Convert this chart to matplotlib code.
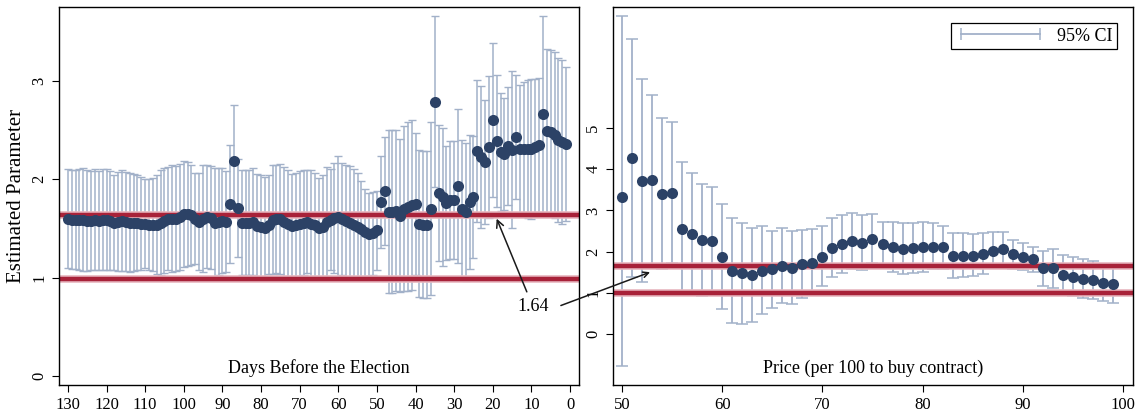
import matplotlib
matplotlib.use("Agg")
import matplotlib.pyplot as plt
from matplotlib.lines import Line2D
import numpy as np

plt.rcParams['font.family'] = ['Liberation Serif', 'DejaVu Serif']

# left panel: days before the election (130 ... 1)
days = list(range(130, 0, -1))
day_est = [
    1.60, 1.59, 1.59, 1.59, 1.59, 1.58, 1.58, 1.59, 1.58, 1.59,
    1.59, 1.58, 1.56, 1.57, 1.58, 1.57, 1.56, 1.56, 1.56, 1.55,
    1.55, 1.54, 1.54, 1.54, 1.56, 1.58, 1.60, 1.60, 1.60, 1.62,
    1.65, 1.65, 1.64, 1.60, 1.57, 1.60, 1.62, 1.61, 1.56, 1.57,
    1.58, 1.57, 1.75, 2.19, 1.71, 1.56, 1.56, 1.56, 1.57, 1.53,
    1.52, 1.51, 1.54, 1.59, 1.60, 1.60, 1.57, 1.55, 1.53, 1.54,
    1.55, 1.56, 1.57, 1.55, 1.54, 1.50, 1.52, 1.57, 1.59, 1.61,
    1.62, 1.60, 1.58, 1.56, 1.54, 1.52, 1.49, 1.46, 1.44, 1.45,
    1.48, 1.77, 1.88, 1.67, 1.67, 1.68, 1.63, 1.70, 1.72, 1.74,
    1.75, 1.55, 1.54, 1.54, 1.70, 2.79, 1.86, 1.82, 1.76, 1.79,
    1.79, 1.93, 1.70, 1.67, 1.77, 1.82, 2.29, 2.23, 2.18, 2.33,
    2.60, 2.39, 2.28, 2.26, 2.34, 2.30, 2.43, 2.31, 2.31, 2.31,
    2.31, 2.33, 2.35, 2.66, 2.49, 2.48, 2.45, 2.40, 2.38, 2.36,
]
# half width of the 95% CI
day_ci = [
    0.50, 0.50, 0.50, 0.51, 0.52, 0.51, 0.50, 0.51, 0.50, 0.51,
    0.51, 0.50, 0.48, 0.50, 0.51, 0.50, 0.50, 0.49, 0.48, 0.47,
    0.45, 0.46, 0.47, 0.50, 0.53, 0.53, 0.52, 0.54, 0.53, 0.54,
    0.54, 0.53, 0.51, 0.46, 0.49, 0.54, 0.52, 0.52, 0.55, 0.54,
    0.53, 0.51, 0.60, 0.56, 0.50, 0.53, 0.53, 0.53, 0.54, 0.52,
    0.52, 0.51, 0.50, 0.55, 0.55, 0.56, 0.55, 0.54, 0.52, 0.52,
    0.53, 0.53, 0.52, 0.54, 0.52, 0.51, 0.52, 0.55, 0.51, 0.56,
    0.62, 0.57, 0.57, 0.57, 0.56, 0.54, 0.49, 0.44, 0.42, 0.42,
    0.40, 0.47, 0.55, 0.83, 0.83, 0.82, 0.78, 0.84, 0.86, 0.86,
    0.72, 0.75, 0.75, 0.75, 0.88, 0.87, 0.69, 0.70, 0.58, 0.60,
    0.60, 0.78, 0.70, 0.70, 0.68, 0.62, 0.72, 0.72, 0.63, 0.72,
    0.78, 0.67, 0.60, 0.57, 0.60, 0.80, 0.63, 0.65, 0.68, 0.70,
    0.71, 0.69, 0.68, 1.00, 0.83, 0.83, 0.84, 0.83, 0.83, 0.78,
]

# right panel: price per 100 to buy contract
prices = list(range(50, 100))
price_est = [
    3.33, 4.27, 3.71, 3.74, 3.41, 3.43, 2.56, 2.42, 2.27, 2.25,
    1.88, 1.54, 1.47, 1.43, 1.54, 1.57, 1.66, 1.61, 1.70, 1.73,
    1.88, 2.09, 2.18, 2.25, 2.22, 2.31, 2.18, 2.10, 2.06, 2.08,
    2.10, 2.12, 2.10, 1.89, 1.89, 1.89, 1.94, 2.02, 2.06, 1.93,
    1.86, 1.81, 1.59, 1.59, 1.42, 1.38, 1.33, 1.31, 1.23, 1.21,
]
price_lo = [
    -0.79, 1.39, 1.25, 1.67, 1.58, 1.72, 0.95, 0.95, 0.92, 0.95,
    0.61, 0.27, 0.24, 0.30, 0.48, 0.64, 0.76, 0.73, 0.88, 0.95,
    1.17, 1.38, 1.47, 1.58, 1.55, 1.73, 1.63, 1.50, 1.45, 1.47,
    1.51, 1.57, 1.58, 1.35, 1.38, 1.40, 1.46, 1.59, 1.65, 1.57,
    1.55, 1.51, 1.17, 1.11, 0.95, 0.91, 0.88, 0.86, 0.80, 0.76,
]
price_hi = [
    7.72, 7.17, 6.20, 5.80, 5.24, 5.14, 4.17, 3.90, 3.63, 3.58,
    3.16, 2.81, 2.69, 2.58, 2.63, 2.51, 2.57, 2.51, 2.52, 2.54,
    2.61, 2.81, 2.89, 2.93, 2.89, 2.91, 2.73, 2.71, 2.69, 2.69,
    2.73, 2.69, 2.63, 2.46, 2.45, 2.43, 2.45, 2.47, 2.47, 2.28,
    2.20, 2.12, 2.02, 2.06, 1.92, 1.87, 1.82, 1.77, 1.67, 1.63,
]

ref_lines = [1.64, 0.99]

dot_color = '#2c4266'
ci_color = '#a2b1c9'
red = '#a82239'

fig = plt.figure(figsize=(11.39, 4.13), dpi=100)
ax1 = fig.add_axes([0.0518, 0.0678, 0.4565, 0.9152])
ax2 = fig.add_axes([0.5382, 0.0678, 0.4565, 0.9152])

# left
ax1.errorbar(days, day_est, yerr=day_ci, fmt='none', ecolor=ci_color,
             elinewidth=1.1, capsize=3, capthick=1.0, zorder=1)
for r in ref_lines:
    ax1.axhline(r, color='#e7b7bf', lw=5.5, zorder=2)
    ax1.axhline(r, color=red, lw=3.2, zorder=2)
ax1.plot(days, day_est, 'o', color=dot_color, ms=8, mec='none', zorder=3)
ax1.set_xlim(132.3, -2.3)
ax1.set_ylim(-0.09, 3.75)
ax1.set_xticks(range(130, -1, -10))
ax1.set_yticks([0, 1, 2, 3])
ax1.set_ylabel('Estimated Parameter', fontsize=15, labelpad=4)
ax1.text(0.5, 0.045, 'Days Before the Election', transform=ax1.transAxes,
         ha='center', va='center', fontsize=13)

# right
yerr = [np.subtract(price_est, price_lo), np.subtract(price_hi, price_est)]
ax2.errorbar(prices, price_est, yerr=yerr, fmt='none', ecolor=ci_color,
             elinewidth=1.3, capsize=4, capthick=1.1, zorder=1)
for r in ref_lines:
    ax2.axhline(r, color='#e7b7bf', lw=5.5, zorder=2)
    ax2.axhline(r, color=red, lw=3.2, zorder=2)
ax2.plot(prices, price_est, 'o', color=dot_color, ms=8, mec='none', zorder=3)
ax2.set_xlim(49.1, 101)
ax2.set_ylim(-1.24, 7.94)
ax2.set_xticks(range(50, 101, 10))
ax2.set_yticks([0, 1, 2, 3, 4, 5])
ax2.text(0.5, 0.045, 'Price (per 100 to buy contract)', transform=ax2.transAxes,
         ha='center', va='center', fontsize=13)

ci_handle = Line2D([], [], color=ci_color, lw=1.3, marker='|', ms=9, mew=1.1)
leg = ax2.legend([ci_handle], ['95% CI'], loc='upper right', numpoints=2,
                 handlelength=5.0, fontsize=13, fancybox=False, framealpha=1,
                 edgecolor='black', borderaxespad=0.9, borderpad=0.25,
                 handletextpad=0.6)
leg.get_frame().set_linewidth(0.9)

for ax in (ax1, ax2):
    for s in ax.spines.values():
        s.set_linewidth(1.0)
    ax.tick_params(axis='both', labelsize=12, length=5, width=0.8)
    ax.tick_params(axis='y', labelrotation=90)
    for lab in ax.get_yticklabels():
        lab.set_va('center')

# 1.64 annotation pointing to both panels
arrow = dict(arrowstyle='->', lw=1.1, color='#1a1a1a', shrinkA=3, shrinkB=0)
ax1.annotate('1.64', xy=(19, 1.60), xycoords='data',
             xytext=(0.468, 0.2567), textcoords='figure fraction',
             ha='center', va='center', fontsize=13, arrowprops=arrow,
             annotation_clip=False)
ax2.annotate('', xy=(52.8, 1.50), xycoords='data',
             xytext=(0.489, 0.2567), textcoords='figure fraction',
             arrowprops=arrow, annotation_clip=False)

fig.savefig('out.png', dpi=100)
